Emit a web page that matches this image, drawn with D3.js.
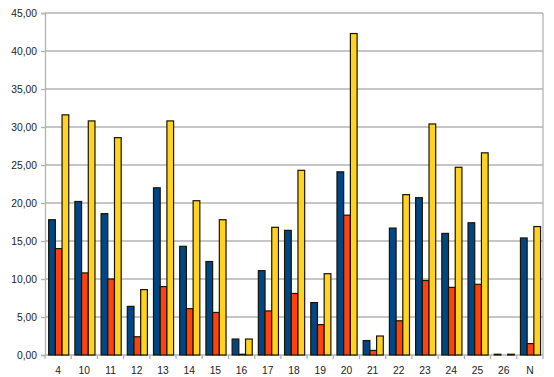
<!DOCTYPE html>
<html>
<head>
<meta charset="utf-8">
<script src="https://cdn.jsdelivr.net/npm/d3@7"></script>
<style>
  body { margin: 0; background: #fff; }
  .lbl { font-family: "Liberation Sans", Arial, sans-serif; font-size: 10.3px; fill: #222; }
</style>
</head>
<body>
<div class="chart"></div>
<script>
// categories along the x axis
var categories = ["4","10","11","12","13","14","15","16","17","18","19","20","21","22","23","24","25","26","N"];
var seriesNames = ["s1", "s2", "s3"];

// values
var s1 = [17.8, 20.2, 18.6, 6.4, 22.0, 14.3, 12.3, 2.1, 11.1, 16.4, 6.9, 24.1, 1.9, 16.7, 20.7, 16.0, 17.4, 0.1, 15.4];
var s2 = [14.0, 10.8, 10.0, 2.4, 9.0, 6.1, 5.6, 0.1, 5.8, 8.1, 4.0, 18.4, 0.6, 4.5, 9.8, 8.9, 9.3, 0, 1.5];
var s3 = [31.6, 30.8, 28.6, 8.6, 30.8, 20.3, 17.8, 2.1, 16.8, 24.3, 10.7, 42.3, 2.5, 21.1, 30.4, 24.7, 26.6, 0.1, 16.9];

var yTicks = [0, 5, 10, 15, 20, 25, 30, 35, 40, 45];

function drawChart() {
    var svgWidth = 554, svgHeight = 377;
    var margin = {top: 13, right: 11, bottom: 22, left: 45};
    var width = svgWidth - margin.left - margin.right;
    var height = svgHeight - margin.top - margin.bottom;

    var colors = {s1: "#004586", s2: "#ff420e", s3: "#ffd320"};
    var values = {s1: s1, s2: s2, s3: s3};

    var svg = d3.select(".chart").append("svg")
        .attr("width", svgWidth)
        .attr("height", svgHeight)
        .append("g")
        .attr("transform", "translate(" + margin.left + "," + margin.top + ")");

    var x0 = d3.scaleBand()
        .domain(categories)
        .range([0, width])
        .padding(0);

    var x1 = d3.scaleBand()
        .domain(seriesNames)
        .range([0, x0.bandwidth()])
        .paddingInner(0)
        .paddingOuter(0.455)
        .align(0.6);

    var y = d3.scaleLinear()
        .domain([0, 45])
        .range([height, 0]);

    // gridlines
    svg.selectAll(".grid")
        .data(yTicks.filter(d => d > 0))
        .enter()
        .append("line")
        .attr("x1", 0)
        .attr("x2", width)
        .attr("y1", d => y(d))
        .attr("y2", d => y(d))
        .attr("stroke", "#b3b3b3")
        .attr("stroke-width", 1.3);

    // right wall edge
    svg.append("line")
        .attr("x1", width).attr("x2", width)
        .attr("y1", 0).attr("y2", height)
        .attr("stroke", "#b3b3b3")
        .attr("stroke-width", 1.3);

    // y axis
    var yAxis = d3.axisLeft(y)
        .tickValues(yTicks)
        .tickSize(4)
        .tickPadding(4)
        .tickFormat(d => d3.format(".2f")(d).replace(".", ","));

    var ya = svg.append("g").call(yAxis);
    ya.select(".domain").attr("stroke", "#b3b3b3").attr("stroke-width", 1.3);
    ya.selectAll(".tick line").attr("stroke", "#b3b3b3").attr("stroke-width", 1.3);
    ya.selectAll("text").attr("class", "lbl").attr("dy", "0.35em");

    // x axis: ticks between categories
    var xa = svg.append("g").attr("transform", "translate(0," + height + ")");
    xa.append("line")
        .attr("x1", 0).attr("x2", width)
        .attr("stroke", "#b3b3b3").attr("stroke-width", 1.3);
    xa.selectAll(".xt")
        .data(categories.concat([null]))
        .enter()
        .append("line")
        .attr("x1", (d, i) => i * x0.step())
        .attr("x2", (d, i) => i * x0.step())
        .attr("y1", 0).attr("y2", 4)
        .attr("stroke", "#b3b3b3").attr("stroke-width", 1.3);
    xa.selectAll(".xl")
        .data(categories)
        .enter()
        .append("text")
        .attr("class", "lbl")
        .attr("x", d => x0(d) + x0.bandwidth() / 2)
        .attr("y", 19)
        .attr("text-anchor", "middle")
        .text(d => d);

    // bars (zero values are not drawn)
    var groups = svg.selectAll(".grp")
        .data(categories)
        .enter()
        .append("g")
        .attr("transform", d => "translate(" + x0(d) + ",0)");

    groups.selectAll("rect")
        .data((d, i) => seriesNames.map(s => ({key: s, value: values[s][i]})).filter(d => d.value > 0))
        .enter()
        .append("rect")
        .attr("x", d => x1(d.key))
        .attr("y", d => y(d.value))
        .attr("width", x1.bandwidth())
        .attr("height", d => height - y(d.value))
        .attr("fill", d => colors[d.key])
        .attr("stroke", "#1a1400")
        .attr("stroke-width", 1.2);
}

drawChart();
</script>
</body>
</html>
